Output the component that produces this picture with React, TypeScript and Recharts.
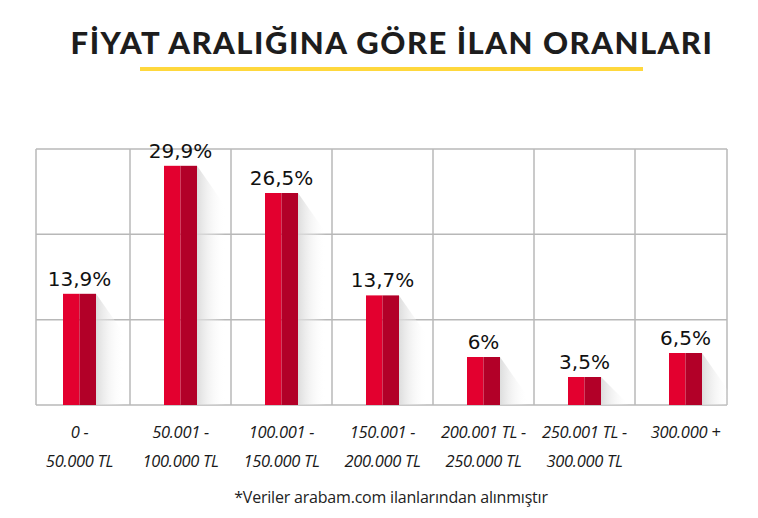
import React from 'react'
import { BarChart, Bar, XAxis, YAxis, CartesianGrid, LabelList } from 'recharts'

const rangeTop = ['0 -', '50.001 -', '100.001 -', '150.001 -', '200.001 TL -', '250.001 TL -', '300.000 +']
const rangeBottom = ['50.000 TL', '100.000 TL', '150.000 TL', '200.000 TL', '250.000 TL', '300.000 TL', '']
const shares = [13.9, 29.9, 26.5, 13.7, 6, 3.5, 6.5]

const data = rangeTop.map((top, i) => ({
  name: top + ' ' + rangeBottom[i],
  top,
  bottom: rangeBottom[i],
  share: shares[i]
}))

const W = 758
const H = 518
const PAD_L = -7
const PAD_R = -9

const fmt = (v: number) => String(v).replace('.', ',') + '%'

function ShadedBar(props: any) {
  const { x, y, width, height } = props
  if (!height || height <= 0) return null
  const half = width / 2
  const base = y + height
  const sx = 28
  const sy = Math.min(40, height)
  return (
    <g>
      <polygon
        points={`${x + width},${y} ${x + width + sx},${y + sy} ${x + width + sx},${base} ${x + width},${base}`}
        fill="url(#barShadow)"
      />
      <rect x={x} y={y} width={half} height={height} fill="#E3002F" />
      <rect x={x + half} y={y} width={width - half} height={height} fill="#B20028" />
    </g>
  )
}

function RangeTick(props: any) {
  const { x, payload, index } = props
  const d = data[index] || data.find(r => r.name === payload.value)
  if (!d) return null
  const font = '"Open Sans", sans-serif'
  return (
    <g>
      <text x={x} y={438} textAnchor="middle" fontFamily={font} fontStyle="italic" fontSize={16.5} fill="#1a1a1a" letterSpacing={-0.3}>
        {d.top}
      </text>
      <text x={x} y={467} textAnchor="middle" fontFamily={font} fontStyle="italic" fontSize={16.5} fill="#1a1a1a" letterSpacing={-0.3}>
        {d.bottom}
      </text>
    </g>
  )
}

export default function App() {
  return (
    <div style={{ position: 'absolute', left: 0, top: 0, width: W, height: H, background: '#fff' }}>
      <div
        style={{
          position: 'absolute',
          left: 13,
          top: 23,
          width: W,
          textAlign: 'center',
          fontFamily: 'Lato, sans-serif',
          fontWeight: 900,
          fontSize: 31,
          lineHeight: '38px',
          color: '#1d1d1d',
          letterSpacing: 1.5
        }}
      >
        FİYAT ARALIĞINA GÖRE İLAN ORANLARI
      </div>
      <div style={{ position: 'absolute', left: 140, top: 67, width: 503, height: 4, background: '#FFD83D' }} />
      <BarChart
        width={W}
        height={H}
        data={data}
        margin={{ top: 149, right: 31, bottom: 83, left: 36 }}
        style={{ position: 'absolute', left: 0, top: 0 }}
      >
        <defs>
          <linearGradient id="barShadow" x1="0" y1="0" x2="1" y2="0">
            <stop offset="0%" stopColor="#d9d9d9" stopOpacity={0.9} />
            <stop offset="100%" stopColor="#ffffff" stopOpacity={0} />
          </linearGradient>
        </defs>
        <CartesianGrid
          stroke="#b8b8b8"
          strokeWidth={1.5}
          horizontalCoordinatesGenerator={({ offset }: any) =>
            [0, 1, 2, 3].map(i => offset.top + (offset.height * i) / 3)
          }
          verticalCoordinatesGenerator={({ offset }: any) => {
            const start = offset.left + PAD_L
            const band = (offset.width - PAD_L - PAD_R) / data.length
            const pts = [offset.left, offset.left + offset.width]
            for (let i = 1; i < data.length; i++) pts.push(start + band * i)
            return pts
          }}
        />
        <XAxis
          dataKey="name"
          axisLine={false}
          tickLine={false}
          interval={0}
          height={30}
          padding={{ left: PAD_L, right: PAD_R }}
          tick={<RangeTick />}
        />
        <YAxis hide domain={[0, 32]} />
        <Bar dataKey="share" barSize={33} shape={<ShadedBar />} isAnimationActive={false}>
          <LabelList
            dataKey="share"
            position="top"
            offset={8}
            formatter={(v: any) => fmt(Number(v))}
            style={{ fontFamily: '"DejaVu Sans", sans-serif', fontSize: 20, fill: '#111' }}
          />
        </Bar>
      </BarChart>
      <div
        style={{
          position: 'absolute',
          left: 12,
          top: 486,
          width: W,
          textAlign: 'center',
          fontFamily: '"Open Sans", sans-serif',
          fontSize: 16,
          color: '#222',
          letterSpacing: -0.2
        }}
      >
        *Veriler arabam.com ilanlarından alınmıştır
      </div>
    </div>
  )
}
